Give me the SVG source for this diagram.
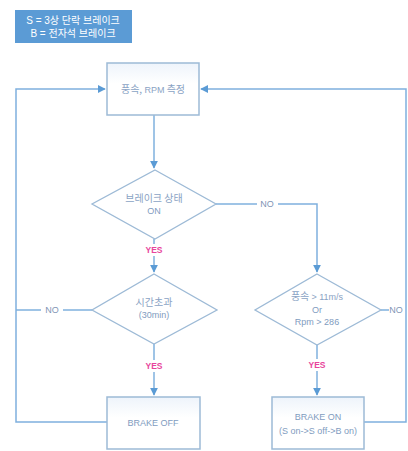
<svg xmlns="http://www.w3.org/2000/svg" width="408" height="451" viewBox="0 0 408 451">
<defs>
<linearGradient id="bg" x1="0" y1="0" x2="0" y2="1">
<stop offset="0" stop-color="#eef4fb"/>
<stop offset="0.4" stop-color="#ffffff"/>
<stop offset="1" stop-color="#ffffff"/>
</linearGradient>
<marker id="arr" viewBox="0 0 10 10" refX="9" refY="5" markerWidth="8" markerHeight="8" markerUnits="userSpaceOnUse" orient="auto">
<path d="M0,0 L10,5 L0,10 z" fill="#5b9bd5"/>
</marker>
<style>
.ln{fill:none;stroke:#7fb0de;stroke-width:1.5}
.box{fill:url(#bg);stroke:#9dbad6;stroke-width:1.5}
.dia{fill:#ffffff;stroke:#9dbad6;stroke-width:1.3}
.t{font-family:"Liberation Sans","Noto Sans CJK KR",sans-serif;font-size:9px;fill:#7f9cc0;text-anchor:middle}
.tk{font-family:"Noto Sans CJK KR",sans-serif;font-size:10px;fill:#8aa3c4;text-anchor:middle}
.lb{font-family:"Liberation Sans",sans-serif;font-size:9px;fill:#7f95b5;text-anchor:middle}
.yes{font-family:"Liberation Sans",sans-serif;font-size:8.5px;font-weight:bold;fill:#e8459c;text-anchor:middle}
.leg{font-family:"Liberation Sans","Noto Sans CJK KR",sans-serif;font-size:10px;fill:#ffffff;text-anchor:middle}
</style>
</defs>
<rect width="408" height="451" fill="#ffffff"/>
<g id="legend">
<rect x="15" y="10" width="117" height="33" fill="#5b9bd5"/>
<text class="leg" x="73" y="24">S = 3상 단락 브레이크</text>
<text class="leg" x="73" y="37">B = 전자석 브레이크</text>
</g>
<g id="connectors">
<path class="ln" d="M154,115 V168" marker-end="url(#arr)"/>
<path class="ln" d="M216,204 H257"/>
<path class="ln" d="M278,204 H317 V272" marker-end="url(#arr)"/>
<path class="ln" d="M154,239 V244"/>
<path class="ln" d="M154,256 V272" marker-end="url(#arr)"/>
<path class="ln" d="M154,344 V360"/>
<path class="ln" d="M154,372 V395" marker-end="url(#arr)"/>
<path class="ln" d="M317,345 V359"/>
<path class="ln" d="M317,371 V395" marker-end="url(#arr)"/>
<path class="ln" d="M92,310 H63"/>
<path class="ln" d="M41,310 H16"/>
<path class="ln" d="M107,422 H16 V89 H105" marker-end="url(#arr)"/>
<path class="ln" d="M381,310 H389"/>
<path class="ln" d="M364,422 H406 V89 H201" marker-end="url(#arr)"/>
<text class="lb" x="267" y="207">NO</text>
<text class="lb" x="52" y="313">NO</text>
<text class="lb" x="396" y="313">NO</text>
<text class="yes" x="154" y="253">YES</text>
<text class="yes" x="154" y="369">YES</text>
<text class="yes" x="317" y="368">YES</text>
</g>
<g id="measure">
<rect class="box" x="107" y="63" width="92" height="52"/>
<text class="tk" x="153" y="93">풍속, <tspan font-family="Liberation Sans" font-size="9">RPM</tspan> 측정</text>
</g>
<g id="brake-state">
<polygon class="dia" points="155,170 216,204 155,239 92,204"/>
<text class="tk" x="154" y="202">브레이크 상태</text>
<text class="t" x="154" y="214">ON</text>
</g>
<g id="timeout">
<polygon class="dia" points="154,274 217,310 154,344 92,310"/>
<text class="tk" x="154" y="306">시간초과</text>
<text class="t" x="154" y="318">(30min)</text>
</g>
<g id="wind-check">
<polygon class="dia" points="317,274 381,310 317,345 255,310"/>
<text class="tk" x="317" y="300">풍속 <tspan font-family="Liberation Sans" font-size="9">&gt; 11m/s</tspan></text>
<text class="t" x="317" y="313">Or</text>
<text class="t" x="317" y="325">Rpm &gt; 286</text>
</g>
<g id="brake-off">
<rect class="box" x="107" y="397" width="93" height="52"/>
<text class="t" x="153" y="426">BRAKE OFF</text>
</g>
<g id="brake-on">
<rect class="box" x="272" y="397" width="92" height="52"/>
<text class="t" x="318" y="420">BRAKE ON</text>
<text class="t" x="318" y="434">(S on-&gt;S off-&gt;B on)</text>
</g>
</svg>
